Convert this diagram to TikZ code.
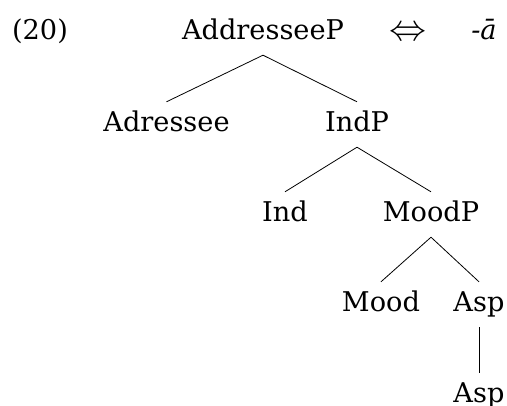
\documentclass[tikz,border=0pt]{standalone}
\usepackage{fontspec}
\usepackage{graphicx}
\setmainfont{DejaVu Serif}
\begin{document}
\begin{tikzpicture}[x=1pt,y=-1pt,
  lbl/.style={font=\fontsize{27.2}{27.2}\selectfont, anchor=base, inner xsep=0pt,
    inner ysep=10pt, text height=20pt, text depth=5pt},
  edge/.style={line width=0.8pt}]
\useasboundingbox (0,0) rectangle (507,406);
\node[lbl] (ex) at (40,40) {(20)};
\node[lbl] (root) at (263,40) {AddresseeP};
\node[inner sep=0pt] (iff) at (408,34) {\resizebox{37pt}{!}{$\Leftrightarrow$}};
\node[lbl] (exp) at (484,40) {\itshape -ā};
\node[lbl] (adr) at (166.5,132) {Adressee};
\node[lbl] (indp) at (357,132) {IndP};
\node[lbl] (ind) at (285,222) {Ind};
\node[lbl] (moodp) at (431,222) {MoodP};
\node[lbl] (mood) at (381,312) {Mood};
\node[lbl] (asp) at (479,312) {Asp};
\node[lbl] (asp2) at (479,403) {Asp};
\draw[edge] (root.south) -- (adr.north);
\draw[edge] (root.south) -- (indp.north);
\draw[edge] (indp.south) -- (ind.north);
\draw[edge] (indp.south) -- (moodp.north);
\draw[edge] (moodp.south) -- (mood.north);
\draw[edge] (moodp.south) -- (asp.north);
\draw[edge] (asp.south) -- (asp2.north);
\end{tikzpicture}
\end{document}
